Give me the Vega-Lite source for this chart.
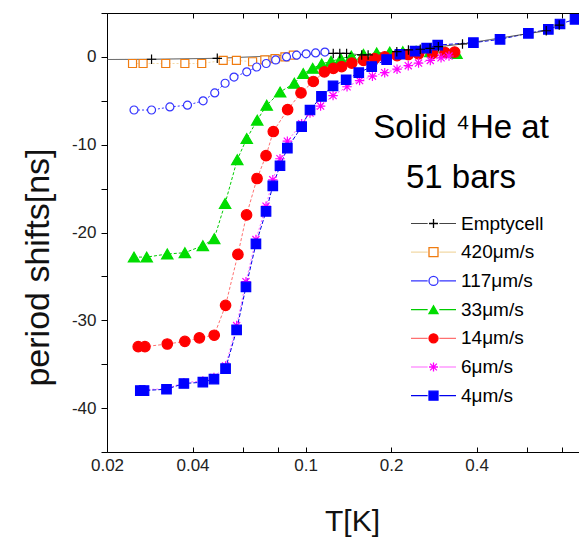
{
  "$schema": "https://vega.github.io/schema/vega-lite/v6.json",
  "width": 472,
  "height": 439,
  "autosize": {"type": "none"},
  "padding": {"left": 107, "top": 13, "right": 0, "bottom": 87},
  "background": "white",
  "config": {
    "view": {"stroke": null},
    "axis": {"grid": false},
    "legend": {"symbolFillColor": "transparent", "symbolStrokeColor": "black"}
  },
  "title": {
    "text": ["Solid ⁴He at", "51 bars"],
    "orient": "top", "anchor": "start", "frame": "group", "align": "center",
    "dx": 354, "dy": 217, "offset": 0, "baseline": "alphabetic",
    "fontSize": 33, "font": "Liberation Sans", "fontWeight": "normal",
    "lineHeight": 50, "color": "black"
  },
  "data": {"values": [
    {"series": "420μm/s", "T": 0.0246, "shift": -0.75},
    {"series": "420μm/s", "T": 0.0268, "shift": -0.75},
    {"series": "420μm/s", "T": 0.0322, "shift": -0.75},
    {"series": "420μm/s", "T": 0.0376, "shift": -0.75},
    {"series": "420μm/s", "T": 0.0431, "shift": -0.75},
    {"series": "420μm/s", "T": 0.0513, "shift": -0.4},
    {"series": "420μm/s", "T": 0.0571, "shift": -0.4},
    {"series": "420μm/s", "T": 0.0651, "shift": -0.55},
    {"series": "420μm/s", "T": 0.0719, "shift": -0.35},
    {"series": "420μm/s", "T": 0.0781, "shift": -0.2},
    {"series": "420μm/s", "T": 0.0846, "shift": 0.0},
    {"series": "420μm/s", "T": 0.0906, "shift": 0.2},

    {"series": "117μm/s", "T": 0.0249, "shift": -6.05},
    {"series": "117μm/s", "T": 0.0287, "shift": -6.05},
    {"series": "117μm/s", "T": 0.0333, "shift": -5.7},
    {"series": "117μm/s", "T": 0.0384, "shift": -5.5},
    {"series": "117μm/s", "T": 0.0436, "shift": -5.0},
    {"series": "117μm/s", "T": 0.0479, "shift": -4.1},
    {"series": "117μm/s", "T": 0.0521, "shift": -3.0},
    {"series": "117μm/s", "T": 0.056, "shift": -2.3},
    {"series": "117μm/s", "T": 0.0621, "shift": -1.7},
    {"series": "117μm/s", "T": 0.0673, "shift": -1.15},
    {"series": "117μm/s", "T": 0.0727, "shift": -0.75},
    {"series": "117μm/s", "T": 0.0785, "shift": -0.35},
    {"series": "117μm/s", "T": 0.0857, "shift": 0.0},
    {"series": "117μm/s", "T": 0.093, "shift": 0.2},
    {"series": "117μm/s", "T": 0.1005, "shift": 0.35},
    {"series": "117μm/s", "T": 0.1085, "shift": 0.45},
    {"series": "117μm/s", "T": 0.117, "shift": 0.55},

    {"series": "33μm/s", "T": 0.0249, "shift": -22.8},
    {"series": "33μm/s", "T": 0.0276, "shift": -22.8},
    {"series": "33μm/s", "T": 0.0326, "shift": -22.45},
    {"series": "33μm/s", "T": 0.0376, "shift": -22.3},
    {"series": "33μm/s", "T": 0.0435, "shift": -21.5},
    {"series": "33μm/s", "T": 0.0477, "shift": -20.7},
    {"series": "33μm/s", "T": 0.0521, "shift": -16.7},
    {"series": "33μm/s", "T": 0.0575, "shift": -11.7},
    {"series": "33μm/s", "T": 0.0621, "shift": -9.3},
    {"series": "33μm/s", "T": 0.0676, "shift": -7.2},
    {"series": "33μm/s", "T": 0.073, "shift": -5.5},
    {"series": "33μm/s", "T": 0.0814, "shift": -4.0},
    {"series": "33μm/s", "T": 0.0913, "shift": -3.0},
    {"series": "33μm/s", "T": 0.0982, "shift": -1.9},
    {"series": "33μm/s", "T": 0.106, "shift": -1.3},
    {"series": "33μm/s", "T": 0.114, "shift": -0.8},
    {"series": "33μm/s", "T": 0.123, "shift": -0.5},
    {"series": "33μm/s", "T": 0.133, "shift": -0.2},
    {"series": "33μm/s", "T": 0.145, "shift": 0.1},
    {"series": "33μm/s", "T": 0.16, "shift": 0.3},
    {"series": "33μm/s", "T": 0.178, "shift": 0.45},
    {"series": "33μm/s", "T": 0.198, "shift": 0.55},
    {"series": "33μm/s", "T": 0.22, "shift": 0.6},
    {"series": "33μm/s", "T": 0.245, "shift": 0.65},
    {"series": "33μm/s", "T": 0.275, "shift": 0.6},
    {"series": "33μm/s", "T": 0.31, "shift": 0.5},
    {"series": "33μm/s", "T": 0.34, "shift": 0.4},

    {"series": "14μm/s", "T": 0.02576, "shift": -33.0},
    {"series": "14μm/s", "T": 0.0272, "shift": -33.0},
    {"series": "14μm/s", "T": 0.0326, "shift": -32.7},
    {"series": "14μm/s", "T": 0.0376, "shift": -32.4},
    {"series": "14μm/s", "T": 0.0423, "shift": -32.0},
    {"series": "14μm/s", "T": 0.0477, "shift": -31.7},
    {"series": "14μm/s", "T": 0.0523, "shift": -28.3},
    {"series": "14μm/s", "T": 0.0578, "shift": -22.5},
    {"series": "14μm/s", "T": 0.062, "shift": -18.0},
    {"series": "14μm/s", "T": 0.0675, "shift": -13.85},
    {"series": "14μm/s", "T": 0.0726, "shift": -11.25},
    {"series": "14μm/s", "T": 0.077, "shift": -8.5},
    {"series": "14μm/s", "T": 0.0865, "shift": -6.0},
    {"series": "14μm/s", "T": 0.0964, "shift": -4.1},
    {"series": "14μm/s", "T": 0.1065, "shift": -2.8},
    {"series": "14μm/s", "T": 0.1165, "shift": -1.7},
    {"series": "14μm/s", "T": 0.1253, "shift": -1.3},
    {"series": "14μm/s", "T": 0.134, "shift": -1.1},
    {"series": "14μm/s", "T": 0.1455, "shift": -0.7},
    {"series": "14μm/s", "T": 0.16, "shift": -0.4},
    {"series": "14μm/s", "T": 0.175, "shift": -0.2},
    {"series": "14μm/s", "T": 0.19, "shift": 0.0},
    {"series": "14μm/s", "T": 0.21, "shift": 0.15},
    {"series": "14μm/s", "T": 0.23, "shift": 0.25},
    {"series": "14μm/s", "T": 0.25, "shift": 0.35},
    {"series": "14μm/s", "T": 0.28, "shift": 0.4},
    {"series": "14μm/s", "T": 0.31, "shift": 0.5},
    {"series": "14μm/s", "T": 0.335, "shift": 0.55},

    {"series": "6μm/s", "T": 0.0262, "shift": -37.9},
    {"series": "6μm/s", "T": 0.027, "shift": -37.9},
    {"series": "6μm/s", "T": 0.0324, "shift": -37.8},
    {"series": "6μm/s", "T": 0.0373, "shift": -37.1},
    {"series": "6μm/s", "T": 0.0435, "shift": -36.9},
    {"series": "6μm/s", "T": 0.0476, "shift": -36.5},
    {"series": "6μm/s", "T": 0.0523, "shift": -35.2},
    {"series": "6μm/s", "T": 0.0572, "shift": -30.6},
    {"series": "6μm/s", "T": 0.0617, "shift": -25.6},
    {"series": "6μm/s", "T": 0.0669, "shift": -20.8},
    {"series": "6μm/s", "T": 0.0726, "shift": -17.0},
    {"series": "6μm/s", "T": 0.0767, "shift": -14.0},
    {"series": "6μm/s", "T": 0.0813, "shift": -11.6},
    {"series": "6μm/s", "T": 0.0863, "shift": -9.6},
    {"series": "6μm/s", "T": 0.0969, "shift": -7.6},
    {"series": "6μm/s", "T": 0.1037, "shift": -6.4},
    {"series": "6μm/s", "T": 0.113, "shift": -5.6},
    {"series": "6μm/s", "T": 0.125, "shift": -4.4},
    {"series": "6μm/s", "T": 0.14, "shift": -3.4},
    {"series": "6μm/s", "T": 0.155, "shift": -2.7},
    {"series": "6μm/s", "T": 0.172, "shift": -2.2},
    {"series": "6μm/s", "T": 0.19, "shift": -1.8},
    {"series": "6μm/s", "T": 0.21, "shift": -1.4},
    {"series": "6μm/s", "T": 0.23, "shift": -1.0},
    {"series": "6μm/s", "T": 0.25, "shift": -0.7},
    {"series": "6μm/s", "T": 0.275, "shift": -0.4},
    {"series": "6μm/s", "T": 0.3, "shift": -0.1},
    {"series": "6μm/s", "T": 0.32, "shift": 0.1},

    {"series": "4μm/s", "T": 0.0262, "shift": -38.0},
    {"series": "4μm/s", "T": 0.027, "shift": -38.0},
    {"series": "4μm/s", "T": 0.0324, "shift": -37.85},
    {"series": "4μm/s", "T": 0.0373, "shift": -37.2},
    {"series": "4μm/s", "T": 0.0435, "shift": -37.05},
    {"series": "4μm/s", "T": 0.0476, "shift": -36.7},
    {"series": "4μm/s", "T": 0.0523, "shift": -35.5},
    {"series": "4μm/s", "T": 0.0572, "shift": -31.1},
    {"series": "4μm/s", "T": 0.0617, "shift": -26.2},
    {"series": "4μm/s", "T": 0.0669, "shift": -21.3},
    {"series": "4μm/s", "T": 0.0726, "shift": -17.6},
    {"series": "4μm/s", "T": 0.0767, "shift": -14.7},
    {"series": "4μm/s", "T": 0.0813, "shift": -12.4},
    {"series": "4μm/s", "T": 0.0863, "shift": -10.4},
    {"series": "4μm/s", "T": 0.0969, "shift": -7.95},
    {"series": "4μm/s", "T": 0.1037, "shift": -6.05},
    {"series": "4μm/s", "T": 0.1138, "shift": -4.5},
    {"series": "4μm/s", "T": 0.125, "shift": -3.3},
    {"series": "4μm/s", "T": 0.139, "shift": -2.6},
    {"series": "4μm/s", "T": 0.154, "shift": -1.8},
    {"series": "4μm/s", "T": 0.171, "shift": -1.1},
    {"series": "4μm/s", "T": 0.193, "shift": -0.3},
    {"series": "4μm/s", "T": 0.215, "shift": 0.3},
    {"series": "4μm/s", "T": 0.243, "shift": 0.65},
    {"series": "4μm/s", "T": 0.267, "shift": 1.0},
    {"series": "4μm/s", "T": 0.292, "shift": 1.35},
    {"series": "4μm/s", "T": 0.39, "shift": 1.62},
    {"series": "4μm/s", "T": 0.484, "shift": 2.0},
    {"series": "4μm/s", "T": 0.609, "shift": 2.69},
    {"series": "4μm/s", "T": 0.716, "shift": 3.14},
    {"series": "4μm/s", "T": 0.787, "shift": 3.75},
    {"series": "4μm/s", "T": 0.889, "shift": 4.28},

    {"series": "Emptycell", "T": 0.019, "shift": -0.3},
    {"series": "Emptycell", "T": 0.0287, "shift": -0.27},
    {"series": "Emptycell", "T": 0.0489, "shift": -0.16},
    {"series": "Emptycell", "T": 0.1252, "shift": 0.4},
    {"series": "Emptycell", "T": 0.132, "shift": 0.4},
    {"series": "Emptycell", "T": 0.1395, "shift": 0.4},
    {"series": "Emptycell", "T": 0.1577, "shift": 0.22},
    {"series": "Emptycell", "T": 0.1661, "shift": 0.22},
    {"series": "Emptycell", "T": 0.2096, "shift": 0.59},
    {"series": "Emptycell", "T": 0.2303, "shift": 0.79},
    {"series": "Emptycell", "T": 0.2535, "shift": 0.87},
    {"series": "Emptycell", "T": 0.2745, "shift": 0.98},
    {"series": "Emptycell", "T": 0.2935, "shift": 1.16},
    {"series": "Emptycell", "T": 0.357, "shift": 1.47},
    {"series": "Emptycell", "T": 0.704, "shift": 2.98},
    {"series": "Emptycell", "T": 0.782, "shift": 3.63}
  ]},
  "layer": [
    {
      "mark": {"type": "line", "strokeWidth": 1, "clip": true},
      "encoding": {
        "x": {
          "field": "T", "type": "quantitative",
          "scale": {"type": "log", "domain": [0.02, 0.918], "nice": false},
          "axis": {
            "values": [0.02, 0.04, 0.06, 0.08, 0.1, 0.2, 0.4, 0.6, 0.8],
            "labelExpr": "indexof([0.06, 0.08, 0.6, 0.8], datum.value) >= 0 ? '' : '' + datum.value",
            "labelFlush": false, "labelOverlap": false,
            "tickSize": -5, "tickColor": "black", "domainColor": "black",
            "labelPadding": 10, "labelFont": "Liberation Sans", "labelFontSize": 17, "labelColor": "#222",
            "title": "T[K]", "titleFont": "Liberation Sans", "titleFontSize": 30, "titleFontWeight": "normal",
            "titleColor": "#111", "titleX": 245, "titleY": 69, "titleBaseline": "middle", "titleAlign": "center",
            "grid": false
          }
        },
        "y": {
          "field": "shift", "type": "quantitative",
          "scale": {"domain": [-45, 5], "nice": false, "zero": false},
          "axis": {
            "values": [-45, -40, -35, -30, -25, -20, -15, -10, -5, 0, 5],
            "labelExpr": "datum.value % 10 == 0 ? '' + datum.value : ''",
            "labelOverlap": false,
            "tickSize": 6, "tickColor": "black", "domainColor": "black",
            "labelPadding": 5, "labelFont": "Liberation Sans", "labelFontSize": 17, "labelColor": "#222",
            "title": "period shifts[ns]", "titleFont": "Liberation Sans", "titleFontSize": 34, "titleFontWeight": "normal",
            "titleColor": "#111", "titleX": -69, "titleY": 254, "titleBaseline": "middle", "titleAlign": "center",
            "grid": false
          }
        },
        "stroke": {
          "field": "series", "type": "nominal",
          "scale": {
            "domain": ["Emptycell", "420μm/s", "117μm/s", "33μm/s", "14μm/s", "6μm/s", "4μm/s"],
            "range": ["#444444", "#f2d9a6", "#3535ff", "#00cc00", "#ff7070", "#ff66ff", "#0000ee"]
          },
          "legend": {
            "orient": "none", "legendX": 317, "legendY": 201, "title": null, "padding": 0,
            "labelFont": "Liberation Sans", "labelFontSize": 19, "labelColor": "black", "labelOpacity": 0,
            "labelOffset": 18, "rowPadding": 8.7, "symbolSize": 81, "symbolStrokeWidth": 1.2,
            "symbolType": "M-5,0H-1.3M1.3,0H5"
          }
        },
        "strokeDash": {
          "field": "series", "type": "nominal",
          "scale": {
            "domain": ["Emptycell", "420μm/s", "117μm/s", "33μm/s", "14μm/s", "6μm/s", "4μm/s"],
            "range": [[1, 0], [2, 2], [2, 2], [3, 2], [3, 2], [2, 2], [4, 2]]
          },
          "legend": null
        }
      }
    },
    {
      "mark": {"type": "point", "filled": false, "opacity": 1, "strokeWidth": 1.2, "clip": true},
      "encoding": {
        "x": {
          "field": "T", "type": "quantitative",
          "axis": {
            "orient": "top", "values": [0.02, 0.04, 0.06, 0.08, 0.1, 0.2, 0.4, 0.6, 0.8],
            "labels": false, "tickSize": -5, "tickColor": "black", "domainColor": "black",
            "title": null, "grid": false
          }
        },
        "y": {"field": "shift", "type": "quantitative", "axis": null},
        "stroke": {
          "field": "series", "type": "nominal",
          "scale": {
            "domain": ["Emptycell", "420μm/s", "117μm/s", "33μm/s", "14μm/s", "6μm/s", "4μm/s"],
            "range": ["#000000", "#f07c10", "#3333ff", "#00dd00", "#ff0000", "#ff00ff", "#0000ff"]
          },
          "legend": {
            "orient": "none", "legendX": 317, "legendY": 201, "title": null, "padding": 0,
            "labelFont": "Liberation Sans", "labelFontSize": 19, "labelColor": "black",
            "labelOffset": 18, "rowPadding": 8.7, "symbolSize": 81, "symbolStrokeWidth": 1.3
          }
        },
        "fill": {
          "field": "series", "type": "nominal",
          "scale": {
            "domain": ["Emptycell", "420μm/s", "117μm/s", "33μm/s", "14μm/s", "6μm/s", "4μm/s"],
            "range": ["transparent", "white", "white", "#00dd00", "#ff0000", "transparent", "#0000ff"]
          },
          "legend": {
            "orient": "none", "legendX": 317, "legendY": 201, "title": null, "padding": 0,
            "labelFont": "Liberation Sans", "labelFontSize": 19, "labelColor": "black",
            "labelOffset": 18, "rowPadding": 8.7, "symbolSize": 81, "symbolStrokeWidth": 1.3
          }
        },
        "shape": {
          "field": "series", "type": "nominal",
          "scale": {
            "domain": ["Emptycell", "420μm/s", "117μm/s", "33μm/s", "14μm/s", "6μm/s", "4μm/s"],
            "range": ["M-1,0H1M0,-1V1", "square", "circle", "triangle-up", "circle", "M-1,0H1M0,-1V1M-0.75,-0.75L0.75,0.75M-0.75,0.75L0.75,-0.75", "square"]
          },
          "legend": {
            "orient": "none", "legendX": 317, "legendY": 201, "title": null, "padding": 0,
            "labelFont": "Liberation Sans", "labelFontSize": 19, "labelColor": "black",
            "labelOffset": 18, "rowPadding": 8.7, "symbolSize": 81, "symbolStrokeWidth": 1.3
          }
        },
        "size": {
          "field": "series", "type": "nominal",
          "scale": {
            "type": "ordinal",
            "domain": ["Emptycell", "420μm/s", "117μm/s", "33μm/s", "14μm/s", "6μm/s", "4μm/s"],
            "range": [90, 64, 64, 130, 110, 90, 90]
          },
          "legend": null
        }
      }
    }
  ],
  "resolve": {
    "axis": {"x": "independent", "y": "independent"},
    "scale": {"stroke": "independent"},
    "legend": {"stroke": "independent", "fill": "independent", "shape": "independent"}
  }
}
